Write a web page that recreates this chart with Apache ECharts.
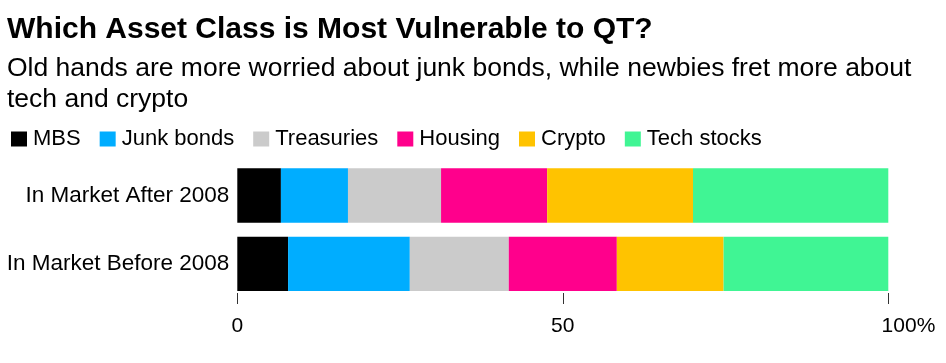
<!DOCTYPE html>
<html>
<head>
<meta charset="utf-8">
<script src="https://cdn.jsdelivr.net/npm/echarts@6/dist/echarts.min.js"></script>
<style>
html,body{margin:0;padding:0;background:#fff;}
#chart{width:946px;height:363px;}
</style>
</head>
<body>
<div id="chart"></div>
<script>
const categories = ['In Market After 2008', 'In Market Before 2008'];
const seriesNames = ['MBS', 'Junk bonds', 'Treasuries', 'Housing', 'Crypto', 'Tech stocks'];
const mbs = [6.7, 7.8];
const junkBonds = [10.3, 18.7];
const treasuries = [14.3, 15.2];
const housing = [16.3, 16.6];
const crypto = [22.4, 16.4];
const techStocks = [30.0, 25.3];
const tickLabels = {0: '0', 50: '50', 100: '100%'};
const colors = ['#000000', '#00adff', '#cbcbcb', '#ff008c', '#ffc300', '#40f594'];
const seriesData = [mbs, junkBonds, treasuries, housing, crypto, techStocks];

const FONT = '"Liberation Sans", Arial, Helvetica, sans-serif';
const chart = echarts.init(document.getElementById('chart'));
chart.setOption({
  animation: false,
  color: colors,
  textStyle: {fontFamily: FONT},
  title: [
    {
      text: 'Which Asset Class is Most Vulnerable to QT?',
      left: 7, top: 11.5, padding: 0,
      textStyle: {fontFamily: FONT, fontSize: 30, fontWeight: 'bold', color: '#000', lineHeight: 36}
    },
    {
      text: 'Old hands are more worried about junk bonds, while newbies fret more about\ntech and crypto',
      left: 7, top: 53.5, padding: 0,
      textStyle: {fontFamily: FONT, fontSize: 26.5, fontWeight: 'normal', color: '#000', lineHeight: 30.6}
    }
  ],
  legend: {
    left: 11, top: 128, padding: 0,
    icon: 'rect', itemWidth: 16, itemHeight: 15, itemGap: 19,
    textStyle: {fontFamily: FONT, fontSize: 22, color: '#000', lineHeight: 22, padding: [0, 0, 0, 1]},
    selectedMode: false,
    data: seriesNames
  },
  grid: {left: 237.3, right: 57.7, top: 161.3, bottom: 65, containLabel: false},
  xAxis: {
    type: 'value', min: 0, max: 100, interval: 50,
    offset: -5,
    axisLine: {show: false},
    splitLine: {show: false},
    axisTick: {show: true, length: 11, lineStyle: {color: '#333', width: 1}},
    axisLabel: {
      margin: 23,
      fontFamily: FONT, fontSize: 21, color: '#000', lineHeight: 21,
      formatter: function (v) {
        if (v === 100) return '{r|' + tickLabels[v] + '}';
        return tickLabels[v] !== undefined ? tickLabels[v] : '';
      },
      rich: {r: {fontFamily: FONT, fontSize: 21, color: '#000', width: 94, align: 'right', lineHeight: 21}}
    }
  },
  yAxis: {
    type: 'category', inverse: true, data: categories,
    axisLine: {show: false}, axisTick: {show: false},
    axisLabel: {margin: 8, fontFamily: FONT, fontSize: 22.5, color: '#000'}
  },
  series: seriesNames.map(function (name, i) {
    return {
      name: name, type: 'bar', stack: 'total',
      barCategoryGap: '20.5%',
      data: seriesData[i],
      itemStyle: {color: colors[i]},
      emphasis: {disabled: true}
    };
  })
});
</script>
</body>
</html>
